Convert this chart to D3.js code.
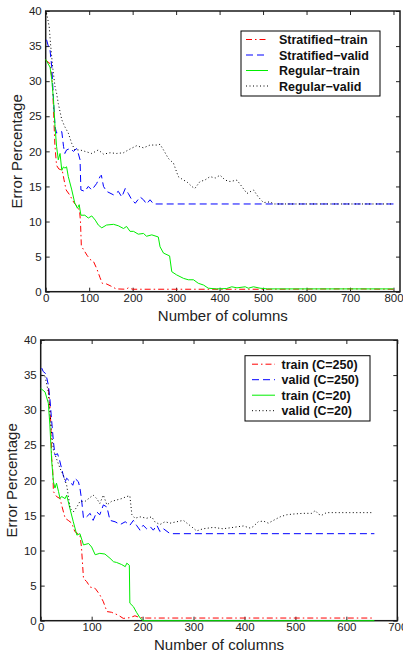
<!DOCTYPE html>
<html>
<head>
<meta charset="utf-8">
<script src="https://cdn.jsdelivr.net/npm/d3@7"></script>
<style>
    body { margin: 0; background: #fff; }
    svg { display: block; font-family: "Liberation Sans", Arial, Helvetica, sans-serif; }
</style>
</head>
<body>
<svg id="chart" width="403" height="654"></svg>
<script>

const svg = d3.select("#chart");

// ---- DATA ---- //

const yTicks = [0, 5, 10, 15, 20, 25, 30, 35, 40];
const xTicksTop = [0, 100, 200, 300, 400, 500, 600, 700, 800];
const xTicksBot = [0, 100, 200, 300, 400, 500, 600, 700];

const legendTop = ["Stratified\u2212train", "Stratified\u2212valid", "Regular\u2212train", "Regular\u2212valid"];
const legendBot = ["train (C=250)", "valid (C=250)", "train (C=20)", "valid (C=20)"];

// top panel, [columns, error %]
const topStratTrain = [[0,33],[10,32.5],[15,30],[18,26],[21,21],[25,18],[30,17.5],[38,17.3],[42,16],[47,14.5],
    [55,13.8],[65,12.7],[72,12.2],[78,11.5],[80,10],[82,6.5],[88,5.9],[95,5.2],[102,4.6],[110,4.3],[118,3.2],
    [125,2],[130,1.2],[140,1.1],[150,0.8],[162,0.4],[185,0.35],[190,0.55],[200,0.35],[300,0.35],[400,0.35],
    [500,0.35],[700,0.4],[800,0.35]];

const topStratValid = [[2,35.9],[6,35],[10,34.4],[14,32],[18,27.3],[21.5,23.5],[25,22.6],[33,22.8],[37,22.8],
    [41,20.7],[44,19.7],[48,20.2],[56,20.4],[64,20],[71,20.4],[75,19.7],[79,18.8],[81,14.5],[90,14.3],[98,15],
    [106,14.5],[117,15.4],[125,16.4],[128,16.6],[133,15],[140,14.3],[156,13.8],[167,14.3],[175,13.5],[183,14.7],
    [190,14],[198,13.1],[206,12.6],[217,13.5],[225,13.1],[232,12.5],[240,13.1],[248,12.5],[400,12.5],[800,12.5]];

const topRegTrain = [[0,33.1],[10,32],[14,30.2],[18,27.3],[21.5,23.5],[25,20.7],[29,18.8],[33,19.7],[37,17.3],
    [41,17.8],[44,17.6],[48,17.8],[52,16.4],[60,14.5],[67,12.6],[73,11.9],[77,12.4],[81,10.9],[90,10.9],
    [98,10.5],[106,10.8],[114,10.2],[121,9.5],[129,9.1],[140,9.5],[156,9.6],[167,9.4],[179,9.0],[186,9.3],
    [194,8.6],[202,8.6],[213,8.2],[225,8.3],[232,7.9],[244,8.1],[259,7.8],[263,6.4],[271,5.5],[285,5.1],
    [290,2.85],[301,2.4],[317,1.9],[328,1.7],[340,1.7],[351,1.2],[363,0.95],[374,0.5],[393,0.4],[416,0.45],
    [428,0.7],[440,0.55],[459,0.7],[466,0.5],[478,0.7],[493,0.5],[510,0.4],[800,0.4]];

const topRegValid = [[2,39.7],[8,37.8],[11,35.4],[16,32],[21.5,29.2],[25,28.3],[29,26.8],[37,24.5],[44,23.5],
    [52,22.6],[60,21.1],[67,20.2],[79,20.2],[90,20],[106,19.7],[121,20.2],[133,19.6],[148,19.8],[163,19.7],
    [179,19.8],[190,20.2],[209,20.8],[225,20.5],[240,20.9],[255,20.9],[263,21.0],[271,20.2],[282,19],[294,18.3],
    [305,16.4],[317,15.9],[324,15.7],[336,15],[343,14.7],[355,15.7],[366,15.9],[378,16.4],[390,16.2],[401,16.6],
    [413,15.9],[424,15.7],[440,15.9],[451,15],[463,14],[478,14.5],[489,13.5],[501,12.7],[516,12.8],[525,12.5],
    [800,12.5]];

// bottom panel
const botTrain250 = [[15,33.1],[18,30.7],[20,27.9],[21.6,23.1],[23.5,21.7],[25,18.4],[31,17.7],[38,17.4],
    [41,16.5],[48,14.6],[54,14.3],[61,13.9],[67,12.7],[77,12.2],[80,10.5],[84,6],[90,5.6],[97,4.8],[107,4.6],
    [116,3.7],[123,2.7],[130,1.3],[139,1.2],[152,0.8],[162,0.33],[175,0.43],[185,0.7],[195,0.43],[208,0.38],
    [654,0.38]];

const botValid250 = [[2,36],[5,35.5],[10,35.2],[15,33.6],[18,31.7],[21.6,28.4],[25,25.5],[28,23.6],[33,23.8],
    [37,22.9],[41,21.7],[44,20.8],[48,19.8],[51,20.3],[58,19.8],[63,19.3],[67,20.3],[74,19.8],[77,18.9],
    [80,17.4],[84,14.6],[90,14.8],[97,15.3],[103,14.3],[110,15.5],[116,15.1],[123,16.5],[130,16.2],[136,14.3],
    [146,14.1],[156,13.7],[166,14.1],[175,13.6],[182,14.3],[188,13.6],[195,12.9],[201,13.6],[208,13.1],
    [215,13.4],[221,12.9],[228,13.6],[234,12.7],[241,13.1],[254,12.4],[655,12.4]];

const botTrain20 = [[0,33.1],[8.5,32.6],[15,31],[18,27.9],[21.6,22.7],[25,19.8],[28,18.9],[31,19.6],[35,18.4],
    [38,17.4],[41,17.7],[48,17.4],[51,17.9],[58,15.8],[64,14.1],[71,12.2],[77,12.4],[84,10.8],[94,11],
    [100,10.5],[107,9.4],[116,9.6],[126,9.5],[136,8.9],[143,8.4],[149,8.3],[159,8.0],[166,7.7],[169,8.2],
    [174,7.9],[175,2.5],[182,2],[188,1.2],[195,0.4],[201,0],[655,0]];

const botValid20 = [[2,35],[8.5,34.8],[15,32.6],[18,29.8],[21.6,26.5],[25,24.3],[31,23.1],[38,21.7],[44,20.8],
    [51,19.3],[54,17.9],[58,16],[64,15.5],[71,16.2],[77,17],[87,17],[94,17.4],[103,17.9],[110,17.4],[116,16.7],
    [123,17.9],[130,16.5],[139,17],[149,17.2],[159,17.4],[169,17.7],[175,17.8],[179,15.1],[185,14.6],[195,14.8],
    [208,14.6],[218,14.8],[224,14.1],[234,13.7],[244,14.1],[254,13.9],[267,14.1],[280,14.3],[287,13.9],
    [296,13.4],[306,12.8],[319,13.1],[339,13.3],[358,13.1],[378,13.3],[398,13.5],[411,13.2],[417,13.4],
    [427,14.1],[437,14.2],[447,13.9],[457,14.3],[470,14.8],[483,15.1],[496,15.2],[515,15.3],[532,15.3],
    [539,15.7],[545,15.2],[551,15],[561,15.4],[581,15.4],[607,15.4],[653,15.4]];

// ---- STYLES ---- //

const styles = [
    { "color": "#ff0000", "dash": "6,3,1.5,3" },
    { "color": "#0000ff", "dash": "7,4" },
    { "color": "#00ee00", "dash": null },
    { "color": "#000000", "dash": "1,2.5" },
];

function drawPanel(p) {

    const g = svg.append("g");

    const xScale = d3.scaleLinear()
        .domain([0, p.xMax])
        .range([p.L, p.R]);
    const yScale = d3.scaleLinear()
        .domain([0, 40])
        .range([p.B, p.T]);

    // ---- AXES ---- //

    const xAxis = d3.axisBottom(xScale)
        .tickValues(p.xTicks)
        .tickSize(-4)
        .tickPadding(2);
    const yAxis = d3.axisLeft(yScale)
        .tickValues(yTicks)
        .tickSize(-4)
        .tickPadding(4);

    const gx = g.append("g")
        .attr("transform", `translate(0, ${p.B})`)
        .call(xAxis);
    const gy = g.append("g")
        .attr("transform", `translate(${p.L}, 0)`)
        .call(yAxis);

    g.append("g")
        .attr("transform", `translate(0, ${p.T})`)
        .call(d3.axisTop(xScale).tickValues(p.xTicks).tickSize(-4).tickFormat(""));
    g.append("g")
        .attr("transform", `translate(${p.R}, 0)`)
        .call(d3.axisRight(yScale).tickValues(yTicks).tickSize(-4).tickFormat(""));

    g.selectAll(".domain").remove();
    g.selectAll(".tick line").attr("stroke", "#222");
    g.selectAll(".tick text")
        .attr("fill", "#222")
        .style("font-size", "11.5px")
        .style("font-family", "'Liberation Sans', Arial, sans-serif");

    g.append("rect")
        .attr("x", p.L)
        .attr("y", p.T)
        .attr("width", p.R - p.L)
        .attr("height", p.B - p.T)
        .attr("fill", "none")
        .attr("stroke", "#1a1a1a")
        .attr("stroke-width", 1.5);

    // ---- LINES ---- //

    const line = d3.line()
        .x(d => xScale(d[0]))
        .y(d => yScale(d[1]));

    p.series.forEach((s, i) => {
        g.append("path")
            .attr("d", line(s))
            .attr("fill", "none")
            .attr("stroke", styles[i].color)
            .attr("stroke-width", 1)
            .attr("stroke-dasharray", styles[i].dash);
    });

    // ---- LABELS ---- //

    g.append("text")
        .attr("x", (p.L + p.R) / 2)
        .attr("y", p.xLabelY)
        .attr("text-anchor", "middle")
        .style("font-size", "15px")
        .attr("fill", "#222")
        .text("Number of columns");

    g.append("text")
        .attr("transform", `translate(${p.yLabelX}, ${(p.T + p.B) / 2}) rotate(-90)`)
        .attr("text-anchor", "middle")
        .style("font-size", "15px")
        .attr("fill", "#222")
        .text("Error Percentage");

    // ---- LEGEND ---- //

    const lg = p.legend;
    g.append("rect")
        .attr("x", lg.x)
        .attr("y", lg.y)
        .attr("width", lg.w)
        .attr("height", lg.h)
        .attr("fill", "#fff")
        .attr("stroke", "#000")
        .attr("stroke-width", 1);

    p.labels.forEach((label, i) => {
        const by = lg.y + 13 + i * 15.5;
        g.append("line")
            .attr("x1", lg.x + lg.l1)
            .attr("x2", lg.x + lg.l2)
            .attr("y1", by - 4.5)
            .attr("y2", by - 4.5)
            .attr("stroke", styles[i].color)
            .attr("stroke-width", 1)
            .attr("stroke-dasharray", styles[i].dash);
        g.append("text")
            .attr("x", lg.x + lg.tx)
            .attr("y", by)
            .style("font-size", "12.5px")
            .style("font-weight", "bold")
            .attr("fill", "#111")
            .text(label);
    });
}

drawPanel({
    "L": 45.7, "R": 400, "T": 11, "B": 291.7, "xMax": 815,
    "xTicks": xTicksTop,
    "series": [topStratTrain, topStratValid, topRegTrain, topRegValid],
    "labels": legendTop,
    "xLabelY": 321,
    "yLabelX": 21.7,
    "legend": { "x": 241, "y": 31, "w": 139, "h": 65, "l1": 5, "l2": 27, "tx": 38 },
});

drawPanel({
    "L": 40.7, "R": 397.3, "T": 340, "B": 620.7, "xMax": 700,
    "xTicks": xTicksBot,
    "series": [botTrain250, botValid250, botTrain20, botValid20],
    "labels": legendBot,
    "xLabelY": 650,
    "yLabelX": 17.4,
    "legend": { "x": 245, "y": 355.7, "w": 125, "h": 65.3, "l1": 7, "l2": 30, "tx": 36.5 },
});

</script>
</body>
</html>
